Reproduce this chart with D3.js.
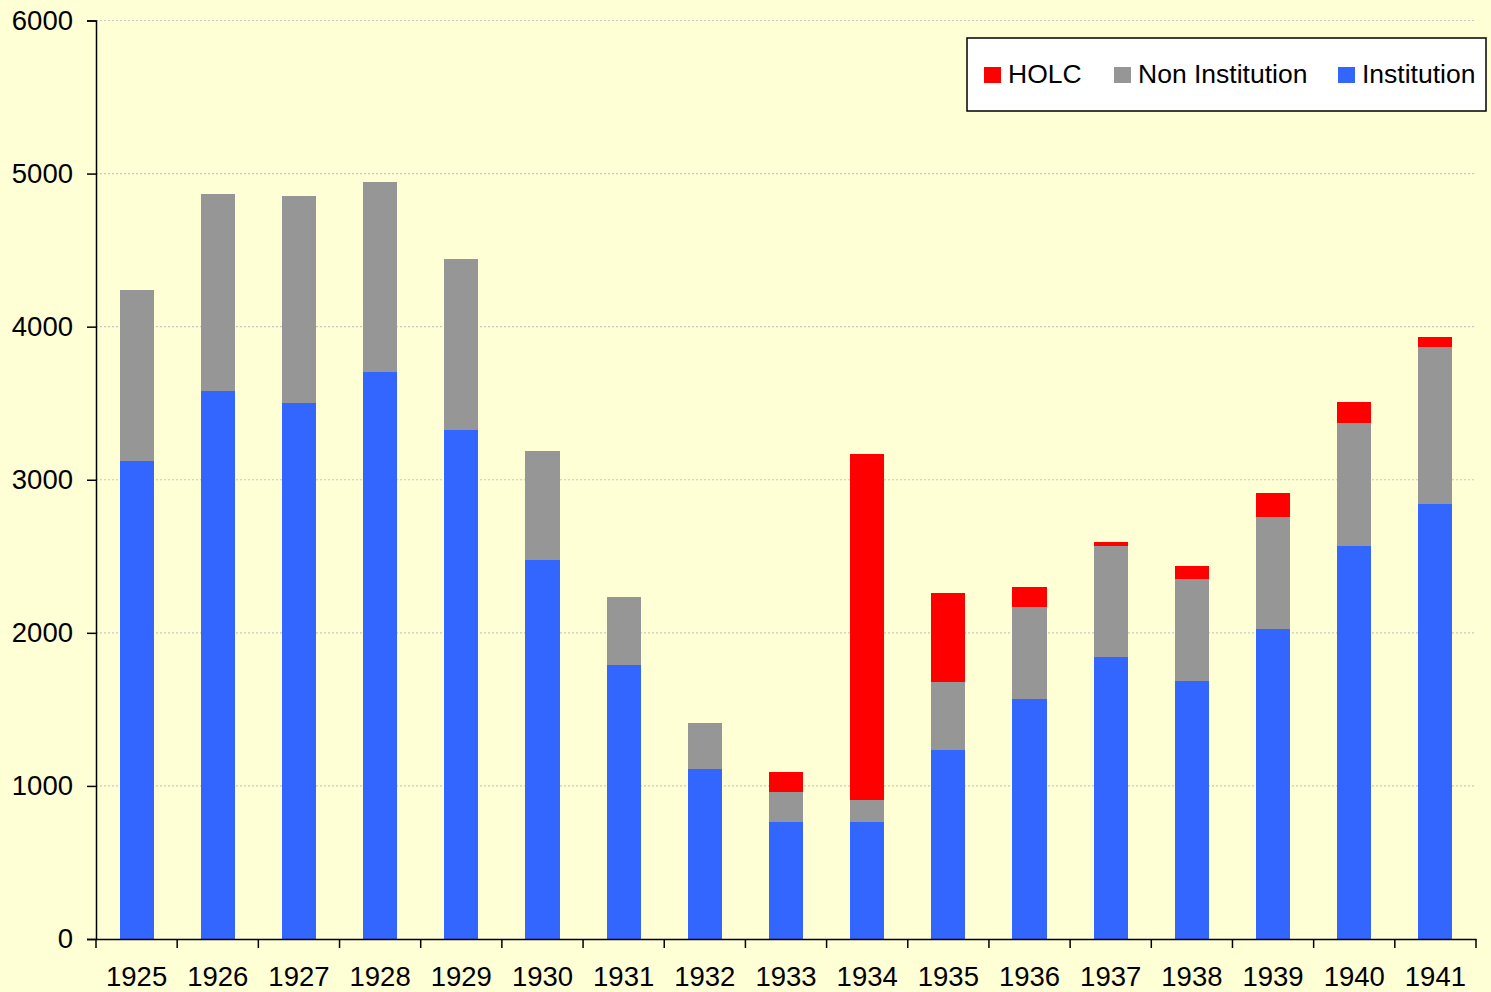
<!DOCTYPE html>
<html><head><meta charset="utf-8">
<script src="https://cdn.jsdelivr.net/npm/d3@7"></script>
<style>
html,body{margin:0;padding:0;background:#FFFFD5;}
svg{display:block;font-family:Arial,"Liberation Sans",sans-serif;}
</style></head>
<body>
<svg id="chart" width="1491" height="992"></svg>
<script>
const years = ["1925","1926","1927","1928","1929","1930","1931","1932","1933","1934","1935","1936","1937","1938","1939","1940","1941"];
const institution    = [3124,3582,3503,3706,3327,2477,1791,1111,765,765,1235,1569,1843,1686,2026,2569,2843];
const nonInstitution = [1118,1287,1353,1242,1117,713,444,301,196,143,445,601,726,667,732,804,1026];
const holc           = [0,0,0,0,0,0,0,0,131,2262,581,131,26,85,157,137,66];
const yTicks = [0,1000,2000,3000,4000,5000,6000];
const seriesKeys = ["Institution","Non Institution","HOLC"];
const seriesColors = {"Institution":"#3366FF","Non Institution":"#969696","HOLC":"#FF0000"};
const legendOrder = ["HOLC","Non Institution","Institution"];

(function(){
const rows = years.map((yr,i)=>({year:yr,"Institution":institution[i],"Non Institution":nonInstitution[i],"HOLC":holc[i]}));

const svg = d3.select("#chart");
svg.append("rect").attr("width",1491).attr("height",992).attr("fill","#FFFFD5");

const pLeft=96, pRight=1476, pTop=20.5, pBottom=939;
const pad = 0.58;
const x = d3.scaleBand().domain(years).range([pLeft,pRight]).paddingInner(pad).paddingOuter(pad/2);
const y = d3.scaleLinear().domain([0,6000]).range([pBottom,pTop]);

// gridlines
svg.append("g").selectAll("line").data(yTicks.filter(d=>d>0)).join("line")
  .attr("x1",pLeft).attr("x2",pRight).attr("y1",d=>y(d)).attr("y2",d=>y(d))
  .attr("stroke","#c8c8c8").attr("stroke-width",1.2).attr("stroke-dasharray","2,2");

// bars
const stack = d3.stack().keys(seriesKeys)(rows);
svg.append("g").selectAll("g").data(stack).join("g")
  .attr("fill",d=>seriesColors[d.key])
  .selectAll("rect").data(d=>d).join("rect")
  .attr("x",d=>x(d.data.year)).attr("width",x.bandwidth())
  .attr("y",d=>y(d[1])).attr("height",d=>Math.max(0,y(d[0])-y(d[1])))
  .attr("shape-rendering","crispEdges");

const fs = 27.5;
// y axis
const yAxis = svg.append("g").attr("transform",`translate(${pLeft},0)`)
  .call(d3.axisLeft(y).tickValues(yTicks).tickSize(9).tickPadding(14).tickFormat(d3.format("d")));
yAxis.select(".domain").attr("stroke","#000").attr("stroke-width",1.5);
yAxis.selectAll(".tick line").attr("stroke","#000").attr("stroke-width",1.5);
yAxis.selectAll("text").attr("font-size",fs).attr("fill","#000").attr("font-family","Arial, 'Liberation Sans', sans-serif");

// x axis
const xAxis = svg.append("g").attr("transform",`translate(0,${pBottom})`)
  .call(d3.axisBottom(x).tickSize(0).tickPadding(27.5).tickSizeOuter(0));
xAxis.select(".domain").attr("stroke","#000").attr("stroke-width",1.5);
xAxis.selectAll("text").attr("font-size",fs).attr("fill","#000").attr("font-family","Arial, 'Liberation Sans', sans-serif");
const step = x.step();
const bounds = years.map(yv=>x(yv)-step*pad/2).concat([x(years[years.length-1])+x.bandwidth()+step*pad/2]);
xAxis.selectAll(".btick").data(bounds).join("line").attr("class","btick")
  .attr("x1",d=>d).attr("x2",d=>d).attr("y1",0).attr("y2",9)
  .attr("stroke","#000").attr("stroke-width",1.5);

// legend
const lg = svg.append("g");
lg.append("rect").attr("x",967).attr("y",38).attr("width",519).attr("height",73)
  .attr("fill","#fff").attr("stroke","#000").attr("stroke-width",1.5);
const legendX = [984,1114,1338];
legendOrder.forEach((k,i)=>{
  lg.append("rect").attr("x",legendX[i]).attr("y",67).attr("width",17).attr("height",16).attr("fill",seriesColors[k]);
  lg.append("text").attr("x",legendX[i]+24).attr("y",83).attr("font-size",26.5).attr("fill","#000").text(k);
});
})();
</script>
</body></html>
